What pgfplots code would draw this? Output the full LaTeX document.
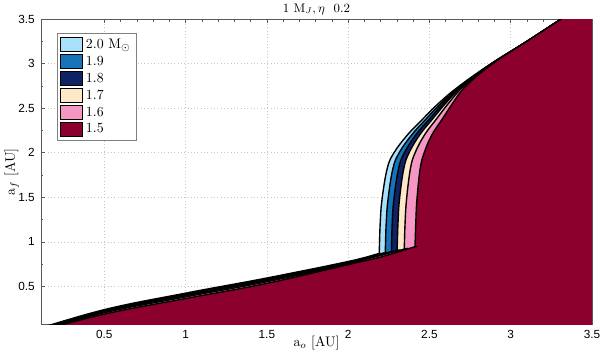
\documentclass[border=0pt]{standalone}
\usepackage{fontspec}
\usepackage{pgfplots}
\pgfplotsset{compat=1.18}
\newfontfamily\tickfont{Liberation Sans}
\definecolor{cA}{RGB}{170,225,250}
\definecolor{cB}{RGB}{20,115,185}
\definecolor{cC}{RGB}{15,35,100}
\definecolor{cD}{RGB}{253,232,200}
\definecolor{cE}{RGB}{245,150,195}
\definecolor{cF}{RGB}{140,0,45}
\begin{document}
\begin{tikzpicture}
\begin{axis}[name=ax, scale only axis, width=397pt, height=220pt,
  xmin=0.11, xmax=3.5, ymin=0.075, ymax=3.5,
  xtick={0.5,1,...,3.5}, ytick={0.5,1,...,3.5},
  minor x tick num=4, minor y tick num=1,
  tick align=inside, major tick length=3pt, minor tick length=1.8pt,
  axis line style={gray!70!black, line width=0.5pt},
  every tick/.style={gray!70!black, line width=0.4pt},
  grid=major, major grid style={gray!45, dotted, line width=0.5pt},
  /pgf/number format/assume math mode=true,
  tick label style={font=\tickfont\fontsize{8.5}{10}\selectfont},
  xticklabel style={yshift=-1pt},
  yticklabel style={xshift=-1pt},
  title={1 M$_J,\eta$\ \ 0.2},
  title style={font=\fontsize{9}{10}\selectfont, at={(axis description cs:0.5,1.004)}, anchor=center},
  xlabel={a$_o$ [AU]}, ylabel={a$_f$ [AU]},
  label style={font=\fontsize{10}{12}\selectfont},
  xlabel style={at={(axis description cs:0.5,-0.06)}, anchor=center},
  ylabel style={at={(axis description cs:-0.053,0.5)}, anchor=center},
  legend style={at={(axis description cs:0.029,0.954)}, anchor=north west,
    draw=gray, font=\fontsize{10}{11}\selectfont, row sep=0pt,
    inner xsep=2pt, inner ysep=2pt, cells={anchor=west}},
  legend image code/.code={\draw[#1,draw=black,line width=0.8pt] (0cm,-0.175cm) rectangle (0.56cm,0.175cm);},
  every axis plot/.append style={smooth, tension=0.65, draw=black, line width=1pt},
]
\addplot[fill=cA] coordinates {
(0.05,0.0) (0.5,0.24) (1.0,0.425) (1.5,0.595) (2.0,0.78) (2.18,0.865) (2.19,0.87) (2.192,0.92)
(2.197,1.2) (2.208,1.47) (2.240,1.82) (2.282,2.0) (2.365,2.2) (2.46,2.38)
(2.56,2.56) (2.685,2.75) (2.88,3.0) (3.10,3.25) (3.31,3.5) (3.39,3.6)
(3.6,3.6) (3.7,3.6) (3.7,3.5) (3.7,0) (3.7,-0.1) (3.6,-0.1) (0.1,-0.1) (0.05,-0.1)} -- cycle;
\addlegendentry{2.0 M$_\odot$}
\addplot[fill=cB] coordinates {
(0.05,-0.004) (0.5,0.2315) (1.0,0.415) (1.5,0.585) (2.0,0.774) (2.217,0.875) (2.227,0.88) (2.229,0.93)
(2.234,1.2) (2.245,1.47) (2.275,1.82) (2.314,2.0) (2.391,2.2) (2.480,2.38)
(2.575,2.56) (2.692,2.75) (2.882,3.0) (3.10,3.25) (3.31,3.5) (3.39,3.6)
(3.6,3.6) (3.7,3.6) (3.7,3.5) (3.7,0) (3.7,-0.1) (3.6,-0.1) (0.1,-0.1) (0.05,-0.1)} -- cycle;
\addlegendentry{1.9}
\addplot[fill=cC] coordinates {
(0.05,-0.009) (0.5,0.223) (1.0,0.405) (1.5,0.575) (2.0,0.768) (2.255,0.887) (2.265,0.892) (2.267,0.94)
(2.271,1.2) (2.281,1.47) (2.310,1.82) (2.346,2.0) (2.416,2.2) (2.501,2.38)
(2.589,2.56) (2.699,2.75) (2.883,3.0) (3.10,3.25) (3.31,3.5) (3.39,3.6)
(3.6,3.6) (3.7,3.6) (3.7,3.5) (3.7,0) (3.7,-0.1) (3.6,-0.1) (0.1,-0.1) (0.05,-0.1)} -- cycle;
\addlegendentry{1.8}
\addplot[fill=cD] coordinates {
(0.05,-0.013) (0.5,0.215) (1.0,0.395) (1.5,0.565) (2.0,0.7625) (2.29,0.898) (2.30,0.903) (2.302,0.95)
(2.3065,1.2) (2.3155,1.47) (2.342,1.82) (2.375,2.0) (2.44,2.2) (2.52,2.38)
(2.6025,2.56) (2.705,2.75) (2.885,3.0) (3.10,3.25) (3.31,3.5) (3.39,3.6)
(3.6,3.6) (3.7,3.6) (3.7,3.5) (3.7,0) (3.7,-0.1) (3.6,-0.1) (0.1,-0.1) (0.05,-0.1)} -- cycle;
\addlegendentry{1.7}
\addplot[fill=cE] coordinates {
(0.05,-0.018) (0.5,0.205) (1.0,0.383) (1.5,0.553) (2.0,0.7555) (2.334,0.914) (2.344,0.919) (2.346,0.97)
(2.350,1.2) (2.359,1.47) (2.383,1.82) (2.412,2.0) (2.470,2.2) (2.544,2.38)
(2.620,2.56) (2.713,2.75) (2.887,3.0) (3.10,3.25) (3.31,3.5) (3.39,3.6)
(3.6,3.6) (3.7,3.6) (3.7,3.5) (3.7,0) (3.7,-0.1) (3.6,-0.1) (0.1,-0.1) (0.05,-0.1)} -- cycle;
\addlegendentry{1.6}
\addplot[fill=cF] coordinates {
(0.05,-0.026) (0.5,0.19) (1.0,0.365) (1.5,0.535) (2.0,0.745) (2.2,0.83) (2.40,0.94) (2.41,0.945) (2.412,0.99)
(2.416,1.2) (2.423,1.47) (2.443,1.82) (2.468,2.0) (2.515,2.2) (2.58,2.38)
(2.645,2.56) (2.725,2.75) (2.89,3.0) (3.10,3.25) (3.31,3.5) (3.39,3.6)
(3.6,3.6) (3.7,3.6) (3.7,3.5) (3.7,0) (3.7,-0.1) (3.6,-0.1) (0.1,-0.1) (0.05,-0.1)} -- cycle;
\addlegendentry{1.5}
\end{axis}
\pgfresetboundingbox
\path[use as bounding box] ([xshift=-29.5pt,yshift=-21pt]ax.south west) rectangle ([xshift=5.8pt,yshift=13.7pt]ax.north east);
\end{tikzpicture}
\end{document}
